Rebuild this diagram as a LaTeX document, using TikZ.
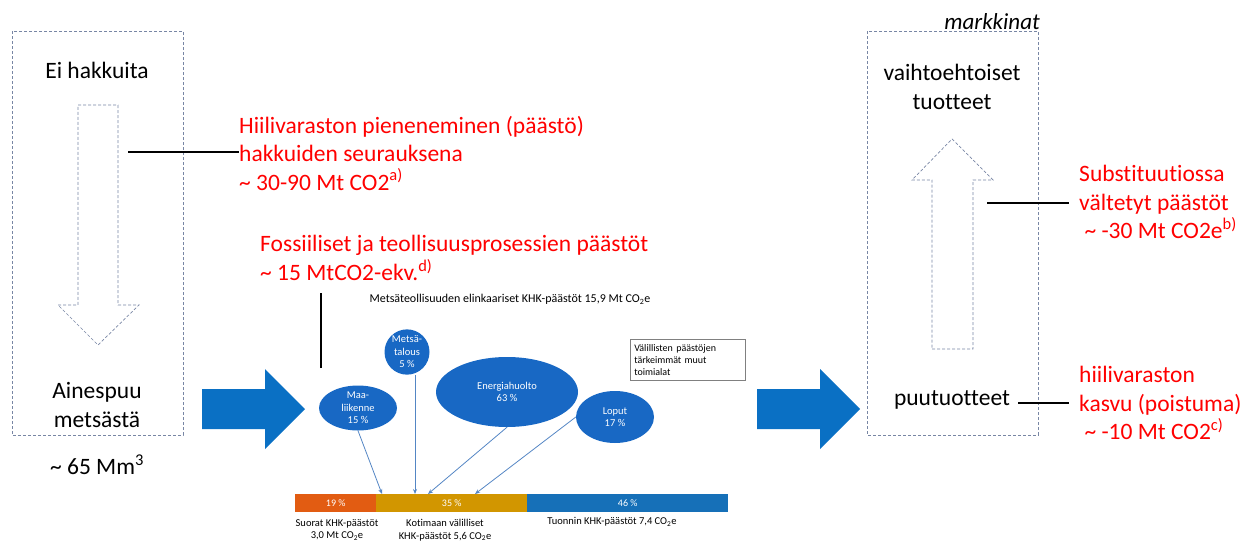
\documentclass[tikz,border=0pt]{standalone}
\usepackage{fontspec}
\setmainfont{Carlito}[Ligatures=CommonOff]
\usetikzlibrary{arrows.meta,shapes.geometric}

\definecolor{sininen}{RGB}{10,112,196}
\definecolor{kuplasin}{RGB}{24,104,196}
\definecolor{viivasin}{RGB}{84,134,196}
\definecolor{katkoharmaa}{RGB}{120,134,164}
\definecolor{oranssi}{RGB}{226,92,18}
\definecolor{kulta}{RGB}{210,150,0}
\definecolor{palkkisin}{RGB}{22,112,184}

\begin{document}
\begin{tikzpicture}[x=1pt,y=-1pt,
    teksti/.style={
      font=\fontsize{23.5}{28.5}\selectfont,
      align=center,
      inner sep=0pt},
    punainen/.style={
      teksti,
      text=red,
      align=left,
      anchor=west},
    kupla/.style={
      ellipse,
      fill=kuplasin,
      text=white,
      font=\fontsize{10.5}{12.5}\selectfont,
      align=center,
      inner sep=0pt},
    pieni/.style={
      font=\fontsize{10.5}{12.5}\selectfont,
      align=center,
      inner sep=0pt},
    palkki/.style={
      minimum height=18pt,
      inner sep=0pt,
      text=white,
      font=\fontsize{10}{12}\selectfont,
      anchor=north west},
    katko/.style={
      draw=katkoharmaa,
      dash pattern=on 3pt off 2pt,
      line width=0.7pt},
    viiva/.style={
      line width=2.2pt},
    nuoli/.style={
      draw=viivasin,
      line width=0.8pt,
      -{Stealth[length=5pt,width=4pt]}}
    ]

  \useasboundingbox (0,0) rectangle (1252,541);

  % vasen laatikko
  \draw[katko] (12,31) rectangle (183,435);
  \node at (97,70) (eihakkuita) [teksti] {Ei hakkuita};
  \node at (97,405) (ainespuu) [teksti] {Ainespuu\\metsästä};
  \node at (97,465) (maara) [teksti] {\textasciitilde\ 65 Mm\textsuperscript{3}};
  \draw[katko] (78,105) -- (118,105) -- (118,305) -- (139,305) -- (98,345)
    -- (58,305) -- (78,305) -- cycle;

  \node at (239,153) (hiili) [punainen] {Hiilivaraston pieneneminen (päästö)\\
    hakkuiden seurauksena\\\textasciitilde\ 30-90 Mt CO2\textsuperscript{a)}};
  \coordinate (hiiliviiva) at (128,152);
  \draw[viiva] (hiiliviiva) -- (hiili.west |- hiiliviiva) ++(-10,0);

  % siniset nuolet
  \fill[sininen] (202,389) -- (265,389) -- (265,369) -- (305,409) -- (265,449)
    -- (265,429) -- (202,429) -- cycle;
  \fill[sininen] (757,389) -- (820,389) -- (820,369) -- (860,409) -- (820,449)
    -- (820,429) -- (757,429) -- cycle;

  % keskiosa
  \node at (260,258) (fossiili) [punainen] {Fossiiliset ja teollisuusprosessien päästöt\\
    \textasciitilde\ 15 MtCO2-ekv.\textsuperscript{d)}};
  \coordinate (fossiiliala) at (321,368);
  \draw[viiva] (fossiiliala) -- (321,293);

  \node at (510,299) (otsikko) [pieni, font=\fontsize{12}{14}\selectfont] {Metsäteollisuuden elinkaariset KHK-päästöt 15,9 Mt CO\textsubscript{2}e};

  \node at (358,408) (maa) [kupla, minimum width=78pt, minimum height=44pt] {Maa-\\liikenne\\15 \%};
  \node at (407,352) (metsa) [kupla, minimum width=45pt, minimum height=36pt] {Metsä-\\talous\\5 \%};
  \node at (507,392) (energia) [kupla, minimum width=142pt, minimum height=70pt] {Energiahuolto\\63 \%};
  \node at (615,417) (loput) [kupla, minimum width=78pt, minimum height=52pt] {Loput\\17 \%};

  \node at (630,339) (valilliset) [pieni, font=\fontsize{10}{12}\selectfont, draw=gray,
    line width=0.6pt, anchor=north west, minimum width=115pt, minimum height=41pt,
    align=left, text width=107pt, inner sep=4pt]
    {Välillisten päästöjen\\tärkeimmät muut\\toimialat};

  \node at (295,494) (suorat) [palkki, fill=oranssi, minimum width=81pt] {19 \%};
  \node at (376,494) (kotimaa) [palkki, fill=kulta, minimum width=151pt] {35 \%};
  \node at (527,494) (tuonti) [palkki, fill=palkkisin, minimum width=201pt] {46 \%};

  \coordinate (p1) at (382,494);
  \coordinate (p2) at (415,494);
  \coordinate (p3) at (428,494);
  \coordinate (p4) at (475,494);
  \draw[nuoli] (maa.south) -- (p1);
  \draw[nuoli] (metsa.south -| p2) -- (p2);
  \draw[nuoli] (energia.south) -- (p3);
  \draw[nuoli] (loput.west) -- (p4);

  \node at (337,530) (suoratteksti) [pieni] {Suorat KHK-päästöt\\3,0 Mt CO\textsubscript{2}e};
  \node at (445,530) (kotimaateksti) [pieni] {Kotimaan välilliset\\KHK-päästöt 5,6 CO\textsubscript{2}e};
  \node at (612,522) (tuontiteksti) [pieni] {Tuonnin KHK-päästöt 7,4 CO\textsubscript{2}e};

  % oikea laatikko
  \draw[katko] (867,31) rectangle (1038,435);
  \node at (1040,22) (markkinat) [teksti, font=\fontsize{23}{26}\selectfont\itshape, anchor=east] {markkinat};
  \node at (952,87) (vaihto) [teksti] {vaihtoehtoiset\\tuotteet};
  \node at (952,400) (puutuotteet) [teksti] {puutuotteet};
  \draw[katko] (932,349) -- (973,349) -- (973,180) -- (993,180) -- (952,139)
    -- (912,180) -- (932,180) -- cycle;

  \node at (1079,202) (subst) [punainen] {Substituutiossa\\vältetyt päästöt\\
    \ \textasciitilde\ -30 Mt CO2e\textsuperscript{b)}};
  \coordinate (substviiva) at (987,203);
  \draw[viiva] (substviiva) -- (1069,203);

  \node at (1079,403) (kasvu) [punainen] {hiilivaraston\\kasvu (poistuma)\\
    \ \textasciitilde\ -10 Mt CO2\textsuperscript{c)}};
  \draw[viiva] (puutuotteet.east) ++(8,3) -- (1069,403);

\end{tikzpicture}
\end{document}
